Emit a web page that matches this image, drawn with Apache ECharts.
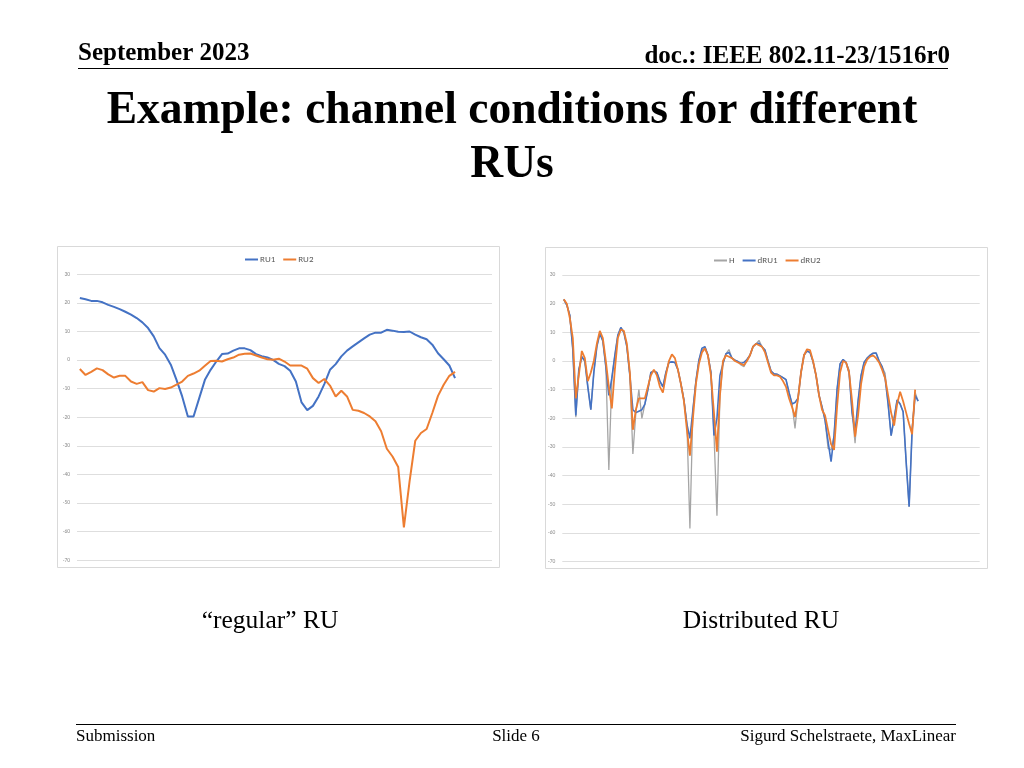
<!DOCTYPE html>
<html>
<head>
<meta charset="utf-8">
<script src="https://cdn.jsdelivr.net/npm/echarts@6/dist/echarts.min.js"></script>
<style>
html,body{margin:0;padding:0;background:#fff;}
#c{width:1024px;height:768px;}
</style>
</head>
<body>
<div id="c"></div>
<script>
// ---- Left chart: "regular" RU ----
var leftCategories = [];
for (var k = 1; k <= 73; k++) leftCategories.push(String(k));
var RU1 = [21.7,21.3,20.7,20.7,20.2,19.3,18.6,17.8,16.9,15.9,14.7,13.2,11.2,8.3,4.2,1.9,-1.6,-6.9,-12.7,-19.7,-19.7,-13.3,-6.9,-3.4,-0.5,2.1,2.3,3.3,4.1,4.1,3.5,2.1,1.4,0.9,0.1,-1.3,-2.1,-3.7,-7.5,-14.8,-17.5,-16.0,-12.7,-8.4,-3.4,-1.4,1.3,3.3,4.8,6.2,7.6,8.9,9.6,9.6,10.6,10.3,9.9,9.8,10.0,8.9,8.0,7.3,5.4,2.4,0.3,-1.9,-6.3];
var RU2 = [-3.1,-5.2,-4.1,-2.9,-3.5,-5.0,-6.1,-5.5,-5.5,-7.5,-8.3,-7.7,-10.5,-11.0,-9.8,-10.1,-9.6,-8.6,-7.5,-5.5,-4.7,-3.7,-2.0,-0.3,-0.2,-0.5,0.3,0.9,1.9,2.2,2.3,1.6,0.9,0.3,0.1,0.5,-0.5,-1.9,-1.9,-1.9,-3.0,-6.3,-8.0,-6.6,-8.9,-12.7,-10.7,-12.7,-17.4,-17.7,-18.5,-19.7,-21.4,-24.9,-31.0,-33.7,-37.4,-58.5,-42.4,-28.2,-25.5,-24.1,-18.5,-12.5,-8.6,-5.5,-4.1];

// ---- Right chart: Distributed RU ----
var rightCategories = [];
for (var j = 1; j <= 139; j++) rightCategories.push(String(j));
var H = [21.5,19.5,16,4,-19.6,-3,1.5,0,-9,-17,-4,5,10,7,-2,-38,-6,2,9,11.7,10,5,-5,-32.4,-18,-10,-20,-15,-10,-4,-3.5,-4,-7,-9,-4,-0.5,-0.3,-0.5,-3,-8,-13.6,-22,-58.4,-17,-7,0.3,3.8,5,2,-4,-25,-54,-12,-1,2.5,4,1,0.3,-0.2,-1.4,-2,0.5,2,5,6,7.2,5,3.8,0,-3.5,-4.5,-4.6,-5.2,-5.8,-6.5,-11,-15,-23.5,-13,-4,2.1,3.5,3,-0.2,-5,-12,-16,-20.6,-30.5,-31,-26,-10,-1,0.5,-0.5,-3.1,-18,-28.7,-14,-5,-0.5,1,2,2.7,2.8,0,-2,-4.3,-15,-26,-20,-13.6,-15,-17.7,-35,-50.8,-24,-11,-14];
var dRU1 = [21.5,19.5,16,4,-19,-3,1.5,0,-9,-17,-4,5,9.5,7,-2,-12,-6,2,9,11.7,10,5,-5,-17,-18,-17.5,-17,-15,-10,-4,-3.5,-4,-7,-9,-4,-0.5,-0.3,-0.5,-3,-8,-13.6,-22,-27,-17,-7,0.3,4.5,5,2,-4,-26,-20,-5,-1,2.5,3,1,0.3,-0.2,-0.8,-0.5,0.5,2,5,6,6.2,5,3.8,0,-3.5,-4.5,-4.6,-5.2,-5.8,-6.5,-11,-15,-14.5,-13,-4,2.1,3.5,3,-0.2,-5,-12,-16,-20.6,-28,-35.1,-26,-10,-1,0.5,-0.5,-4,-18,-25,-14,-5,-0.5,1,2,2.7,2.8,0,-2,-6,-15,-26,-20,-13.6,-15,-17.7,-35,-50.8,-24,-12,-14];
var dRU2 = [21.5,20,15,8,-13,-5,3.5,1,-7,-4,0,6,10.5,8,0,-9,-16.5,-3,8,11,10.5,6,-4,-24,-17,-13,-13,-13,-9,-5,-3,-5,-9,-11,-5,0,2.3,1,-3,-8,-14,-24,-33,-20,-8,-1,3,4.4,2,-5,-18,-31.6,-12,0,2,1.5,1,0,-0.5,-1,-1.5,0,2,5,6,5.5,5,3,-0.5,-4,-5,-5,-5.5,-7,-9,-13,-16,-19.5,-13,-4,2,4.1,3.8,0,-5,-12,-17,-19,-24,-29,-31,-16,-4,0,-0.5,-4,-14,-26.4,-19,-8,-2,0.5,1.5,2,1,-0.5,-3,-6,-12,-18,-22.5,-15,-10.7,-14,-18,-22,-25.5,-10];

// Axis ticks (shared)
var yMin = -70, yMax = 30, yStep = 10;

var BLUE = '#4472C4', ORANGE = '#ED7D31', GRAY = '#A5A5A5';
var SERIF = '"Liberation Serif","Times New Roman",serif';
var SANS = 'Calibri,Carlito,"Liberation Sans",Arial,sans-serif';

function yAxisCfg(gi) {
  return {
    gridIndex: gi, type: 'value', min: yMin, max: yMax, interval: yStep,
    axisLine: {show: false}, axisTick: {show: false},
    axisLabel: {fontSize: 5.5, color: '#8c8c8c', margin: 7, fontFamily: SANS},
    splitLine: {lineStyle: {color: '#dedede', width: 1}}
  };
}
function xAxisCfg(gi, cats) {
  return {
    gridIndex: gi, type: 'category', data: cats, boundaryGap: true,
    axisLine: {show: false}, axisTick: {show: false}, axisLabel: {show: false},
    splitLine: {show: false}
  };
}

var chart = echarts.init(document.getElementById('c'), null, {renderer: 'canvas'});
chart.setOption({
  animation: false,
  backgroundColor: '#ffffff',
  grid: [
    {left: 77, right: 1024 - 492, top: 274.3, bottom: 768 - 560.3},
    {left: 562.3, right: 1024 - 979.7, top: 275, bottom: 768 - 561.7}
  ],
  xAxis: [xAxisCfg(0, leftCategories), xAxisCfg(1, rightCategories)],
  yAxis: [yAxisCfg(0), yAxisCfg(1)],
  legend: [
    {data: ['RU1', 'RU2'], left: 245, top: 255, padding: 0, itemWidth: 13, itemHeight: 2, itemGap: 8,
     icon: 'rect', textStyle: {fontSize: 9, color: '#595959', fontFamily: SANS, padding: [0,0,0,-3]}},
    {data: ['H', 'dRU1', 'dRU2'], left: 714, top: 256, padding: 0, itemWidth: 13, itemHeight: 2, itemGap: 8,
     icon: 'rect', textStyle: {fontSize: 9, color: '#595959', fontFamily: SANS, padding: [0,0,0,-3]}}
  ],
  series: [
    {name: 'RU1', type: 'line', xAxisIndex: 0, yAxisIndex: 0, data: RU1, showSymbol: false,
     lineStyle: {color: BLUE, width: 2}, itemStyle: {color: BLUE}},
    {name: 'RU2', type: 'line', xAxisIndex: 0, yAxisIndex: 0, data: RU2, showSymbol: false,
     lineStyle: {color: ORANGE, width: 2}, itemStyle: {color: ORANGE}},
    {name: 'H', type: 'line', xAxisIndex: 1, yAxisIndex: 1, data: H, showSymbol: false,
     lineStyle: {color: GRAY, width: 1.3}, itemStyle: {color: GRAY}},
    {name: 'dRU1', type: 'line', xAxisIndex: 1, yAxisIndex: 1, data: dRU1, showSymbol: false,
     lineStyle: {color: BLUE, width: 1.6}, itemStyle: {color: BLUE}},
    {name: 'dRU2', type: 'line', xAxisIndex: 1, yAxisIndex: 1, data: dRU2, showSymbol: false,
     lineStyle: {color: ORANGE, width: 1.8}, itemStyle: {color: ORANGE}}
  ],
  graphic: [
    // chart frames
    {type: 'rect', shape: {x: 57.5, y: 246.5, width: 442, height: 321}, style: {fill: 'none', stroke: '#d9d9d9', lineWidth: 1}, z: -1},
    {type: 'rect', shape: {x: 545.5, y: 247.5, width: 442, height: 321}, style: {fill: 'none', stroke: '#d9d9d9', lineWidth: 1}, z: -1},
    // header
    {type: 'text', style: {text: 'September 2023', x: 78, y: 54, textVerticalAlign: 'middle', font: 'bold 25px ' + SERIF, fill: '#000'}},
    {type: 'text', style: {text: 'doc.: IEEE 802.11-23/1516r0', x: 950, y: 57, textAlign: 'right', textVerticalAlign: 'middle', font: 'bold 25px ' + SERIF, fill: '#000'}},
    {type: 'line', shape: {x1: 78, y1: 68.5, x2: 948, y2: 68.5}, style: {stroke: '#000', lineWidth: 1}},
    // title
    {type: 'text', style: {text: 'Example: channel conditions for different', x: 512, y: 111, textAlign: 'center', textVerticalAlign: 'middle', font: 'bold 45.5px ' + SERIF, fill: '#000'}},
    {type: 'text', style: {text: 'RUs', x: 512, y: 165, textAlign: 'center', textVerticalAlign: 'middle', font: 'bold 45.5px ' + SERIF, fill: '#000'}},
    // captions
    {type: 'text', style: {text: '\u201Cregular\u201D RU', x: 270, y: 621, textAlign: 'center', textVerticalAlign: 'middle', font: '25.5px ' + SERIF, fill: '#000'}},
    {type: 'text', style: {text: 'Distributed RU', x: 761, y: 621, textAlign: 'center', textVerticalAlign: 'middle', font: '25.5px ' + SERIF, fill: '#000'}},
    // footer
    {type: 'line', shape: {x1: 76, y1: 724.5, x2: 956, y2: 724.5}, style: {stroke: '#000', lineWidth: 1}},
    {type: 'text', style: {text: 'Submission', x: 76, y: 737, textVerticalAlign: 'middle', font: '17px ' + SERIF, fill: '#000'}},
    {type: 'text', style: {text: 'Slide 6', x: 516, y: 737, textAlign: 'center', textVerticalAlign: 'middle', font: '17px ' + SERIF, fill: '#000'}},
    {type: 'text', style: {text: 'Sigurd Schelstraete, MaxLinear', x: 956, y: 737, textAlign: 'right', textVerticalAlign: 'middle', font: '17px ' + SERIF, fill: '#000'}}
  ]
});
</script>
</body>
</html>
